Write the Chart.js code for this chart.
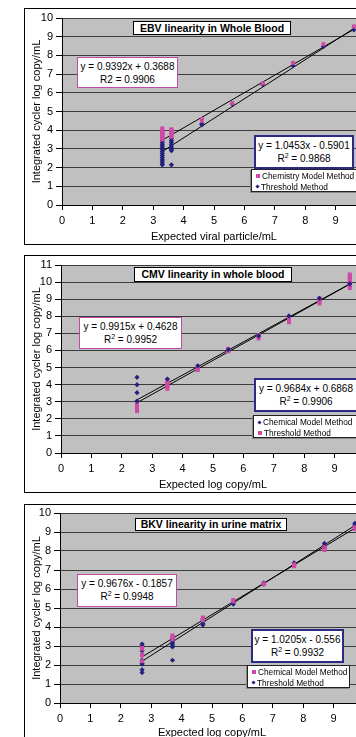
<!DOCTYPE html>
<html>
<head>
<meta charset="utf-8">
<script src="https://cdn.jsdelivr.net/npm/chart.js@4.4.0/dist/chart.umd.min.js"></script>
<style>
html, body { margin: 0; padding: 0; background: #fff; overflow: hidden; width: 356px; height: 737px; }
body { position: relative; font-family: "Liberation Sans", Arial, sans-serif; color: #000; }
.frame { position: absolute; left: 24px; width: 420px; border: 1px solid #000; box-sizing: border-box; }
canvas { position: absolute; left: 0; }
.box { position: absolute; background: #fff; text-align: center; box-sizing: border-box; white-space: nowrap; }
.title { border: 1px solid #000; font-weight: bold; font-size: 10.5px; line-height: 12px; }
.eq { font-size: 10px; line-height: 13px; padding-top: 2px; }
.eq sup { font-size: 7px; line-height: 0; vertical-align: 4px; }
.pink { border: 1px solid #c04aa8; }
.navy { border: 2px solid #2b2b82; }
.legend { border: 1px solid #222; box-shadow: -1px 1px 0 #888; font-size: 8.3px; line-height: 10.5px; text-align: left; padding: 1px 0 0 3px; }
.mk { display: inline-block; width: 4px; height: 4px; margin: 0 2px 1px 1px; vertical-align: middle; }
.mk.sq { background: #d048a8; }
.mk.di { background: #22227e; width: 3px; height: 3px; transform: rotate(45deg); }
</style>
</head>
<body>
<div class="frame" style="top:8px;height:237px"></div>
<div class="frame" style="top:255px;height:238px"></div>
<div class="frame" style="top:504px;height:300px"></div>

<canvas id="ebv" width="420" height="250" style="top:0px"></canvas>
<canvas id="cmv" width="420" height="250" style="top:247px"></canvas>
<canvas id="bkv" width="420" height="250" style="top:495px"></canvas>

<div class="box title" style="left:133px;top:21px;width:158px;height:14px">EBV linearity in Whole Blood</div>
<div class="box eq pink" style="left:77px;top:57px;width:101px;height:31px">y = 0.9392x + 0.3688<br>R2 = 0.9906</div>
<div class="box eq navy" style="left:254px;top:135px;width:100px;height:34px">y = 1.0453x - 0.5901<br>R<sup>2</sup> = 0.9868</div>
<div class="box legend" style="left:251px;top:169px;width:110px;height:23px"><span class="mk sq"></span>Chemistry Model Method<br><span class="mk di"></span>Threshold Method</div>

<div class="box title" style="left:134px;top:267px;width:158px;height:15px;line-height:13px">CMV linearity in whole blood</div>
<div class="box eq pink" style="left:79px;top:317px;width:103px;height:32px">y = 0.9915x + 0.4628<br>R<sup>2</sup> = 0.9952</div>
<div class="box eq navy" style="left:254px;top:378px;width:104px;height:34px">y = 0.9684x + 0.6868<br>R<sup>2</sup> = 0.9906</div>
<div class="box legend" style="left:253px;top:415px;width:110px;height:23px"><span class="mk di"></span>Chemical Model Method<br><span class="mk sq"></span>Threshold Method</div>

<div class="box title" style="left:135px;top:518px;width:152px;height:13px;line-height:11px">BKV linearity in urine matrix</div>
<div class="box eq pink" style="left:77px;top:574px;width:100px;height:33px">y = 0.9676x - 0.1857<br>R<sup>2</sup> = 0.9948</div>
<div class="box eq navy" style="left:251px;top:629px;width:93px;height:34px">y = 1.0205x - 0.556<br>R<sup>2</sup> = 0.9932</div>
<div class="box legend" style="left:247px;top:665px;width:103px;height:23px"><span class="mk sq"></span>Chemical Model Method<br><span class="mk di"></span>Threshold Method</div>

<script>
// EBV in whole blood
const ebvLevels = [3.3, 3.6, 4.6, 5.6, 6.6, 7.6, 8.6, 9.6];
const ebvChemistry = [
    [4.1, 4.0, 3.95, 3.9, 3.85, 3.8, 3.75, 3.7, 3.65, 3.6, 3.55, 3.5],
    [4.05, 4.0, 3.95, 3.9, 3.85, 3.8, 3.75, 3.7, 3.65],
    [4.6, 4.5], [5.45], [6.5], [7.6], [8.6], [9.55]
];
const ebvThreshold = [
    [3.45, 3.35, 3.25, 3.15, 3.05, 2.95, 2.85, 2.75, 2.65, 2.55, 2.45, 2.35, 2.25, 2.15],
    [3.55, 3.45, 3.35, 3.25, 3.15, 3.05, 2.95, 2.9, 2.15],
    [4.35, 4.28], [5.4], [6.45], [7.45], [8.47], [9.37]
];
const ebvFitX = [3.3, 9.6];
const ebvChemistryFit = [3.47, 9.39];
const ebvThresholdFit = [2.86, 9.44];

// CMV in whole blood
const cmvLevels = [2.5, 3.5, 4.5, 5.5, 6.5, 7.5, 8.5, 9.5];
const cmvChemical = [
    [4.43, 4.0, 3.53, 3.04], [4.33], [5.1], [6.05], [6.85], [8.02], [9.05], [9.9]
];
const cmvThreshold = [
    [2.95, 2.85, 2.75, 2.65, 2.55, 2.45],
    [4.25, 4.15, 4.05, 3.95, 3.85, 3.75],
    [5.05, 4.95, 4.85],
    [6.1, 6.0, 5.95],
    [6.9, 6.8, 6.7],
    [7.95, 7.85, 7.75, 7.65],
    [9.05, 8.95, 8.85, 8.75],
    [10.45, 10.35, 10.25, 10.15, 10.05, 9.95, 9.85, 9.75, 9.65]
];
const cmvFitX = [2.5, 9.5];
const cmvChemicalFit = [3.11, 9.89];
const cmvThresholdFit = [2.94, 9.88];

// BKV in urine matrix
const bkvLevels = [2.7, 3.7, 4.7, 5.7, 6.7, 7.7, 8.7, 9.7];
const bkvChemical = [
    [2.9, 2.85, 2.55, 2.5, 2.2],
    [3.55, 3.5, 3.45, 3.35],
    [4.5, 4.45, 4.35],
    [5.42, 5.35], [6.3, 6.25], [7.3, 7.2], [8.2, 8.1, 8.05], [9.25, 9.15]
];
const bkvThreshold = [
    [3.1, 3.0, 2.95, 2.75, 2.25, 2.1, 2.05, 1.75, 1.6],
    [3.4, 3.3, 3.2, 3.1, 3.0, 2.95, 2.25],
    [4.4, 4.3, 4.2, 4.1],
    [5.3, 5.2], [6.33, 6.25], [7.38, 7.25], [8.4, 8.3, 8.2], [9.45, 9.35]
];
const bkvFitX = [2.7, 9.7];
const bkvChemicalFit = [2.43, 9.2];
const bkvThresholdFit = [2.2, 9.34];

const PINK = '#d048a8';
const NAVY = '#22227e';

function toPoints(levels, groups) {
    const pts = [];
    levels.forEach((x, i) => {
        groups[i].forEach(y => pts.push({ x: x, y: y }));
    });
    return pts;
}

function fitLine(xs, ys) {
    return xs.map((x, i) => ({ x: x, y: ys[i] }));
}

// gray plot area like the old Excel charts
const plotBg = {
    id: 'plotBg',
    beforeDraw(chart) {
        const a = chart.chartArea;
        const ctx = chart.ctx;
        ctx.save();
        ctx.fillStyle = '#c0c0c0';
        ctx.fillRect(a.left, a.top, a.right - a.left, a.bottom - a.top);
        ctx.restore();
    }
};

function pinkSet(data) {
    return { type: 'scatter', data: data, pointStyle: 'rect', pointRadius: 2.8,
             backgroundColor: PINK, borderColor: PINK, borderWidth: 0 };
}
function navySet(data) {
    return { type: 'scatter', data: data, pointStyle: 'rectRot', pointRadius: 2.6,
             backgroundColor: NAVY, borderColor: NAVY, borderWidth: 0 };
}
function lineSet(data) {
    return { type: 'line', data: data, borderColor: '#000', borderWidth: 1,
             pointRadius: 0, fill: false, tension: 0 };
}

function makePanel(id, p) {
    const ctx = document.getElementById(id).getContext('2d');
    const right = p.left + 304;
    return new Chart(ctx, {
        type: 'scatter',
        data: { datasets: p.datasets },
        options: {
            responsive: false,
            animation: false,
            layout: { padding: { left: 26, top: p.top, right: 420 - right, bottom: 0 } },
            plugins: { legend: { display: false }, tooltip: { enabled: false } },
            scales: {
                x: {
                    type: 'linear', min: 0, max: 10,
                    ticks: { stepSize: 1, color: '#000', font: { size: 11 }, padding: 4 },
                    grid: { drawOnChartArea: false, tickLength: 5, tickColor: '#000' },
                    border: { color: '#000' },
                    title: { display: true, text: p.xTitle, color: '#000', font: { size: 11 },
                             padding: { top: 0, bottom: p.xTitlePad } },
                    afterFit: s => { s.height = p.xHeight; }
                },
                y: {
                    type: 'linear', min: 0, max: p.yMax,
                    ticks: { stepSize: 1, color: '#000', font: { size: 11 }, padding: 3 },
                    grid: { color: '#3c3c3c', tickLength: 6, tickColor: '#000' },
                    border: { color: '#000' },
                    title: { display: true, text: 'Integrated cycler log copy/mL', color: '#000',
                             font: { size: 11 }, padding: { top: 4, bottom: 0 } },
                    afterFit: s => { s.width = p.left - 26; }
                }
            }
        },
        plugins: [plotBg]
    });
}

makePanel('ebv', {
    left: 62, top: 18, xHeight: 45, xTitlePad: 6, yMax: 10,
    xTitle: 'Expected viral particle/mL',
    datasets: [
        pinkSet(toPoints(ebvLevels, ebvChemistry)),
        navySet(toPoints(ebvLevels, ebvThreshold)),
        lineSet(fitLine(ebvFitX, ebvChemistryFit)),
        lineSet(fitLine(ebvFitX, ebvThresholdFit))
    ]
});

makePanel('cmv', {
    left: 61, top: 18, xHeight: 44, xTitlePad: 5, yMax: 11,
    xTitle: 'Expected log copy/mL',
    datasets: [
        navySet(toPoints(cmvLevels, cmvChemical)),
        pinkSet(toPoints(cmvLevels, cmvThreshold)),
        lineSet(fitLine(cmvFitX, cmvChemicalFit)),
        lineSet(fitLine(cmvFitX, cmvThresholdFit))
    ]
});

makePanel('bkv', {
    left: 60, top: 18, xHeight: 42, xTitlePad: 5, yMax: 10,
    xTitle: 'Expected log copy/mL',
    datasets: [
        pinkSet(toPoints(bkvLevels, bkvChemical)),
        navySet(toPoints(bkvLevels, bkvThreshold)),
        lineSet(fitLine(bkvFitX, bkvChemicalFit)),
        lineSet(fitLine(bkvFitX, bkvThresholdFit))
    ]
});
</script>
</body>
</html>
